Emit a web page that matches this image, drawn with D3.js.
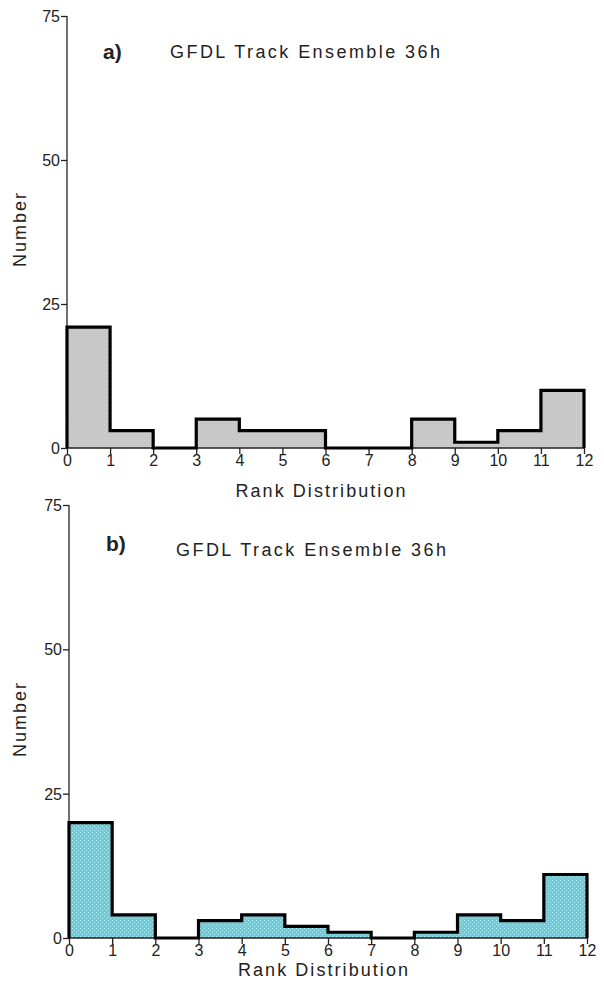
<!DOCTYPE html>
<html><head><meta charset="utf-8">
<script src="https://cdn.jsdelivr.net/npm/d3@7"></script>
<style>body{margin:0;background:#fff}svg{display:block}text{font-family:"Liberation Sans",Arial,sans-serif;fill:#222}</style>
</head><body><svg id="c" width="604" height="993"></svg>
<script>
const ranks = [0,1,2,3,4,5,6,7,8,9,10,11,12];
const yTicks = [0,25,50,75];
const countsA = [21,3,0,5,3,3,0,0,5,1,3,10];
const countsB = [20,4,0,3,4,2,1,0,1,4,3,11];
const panelLabels = ["a)","b)"];
const titles = ["GFDL Track Ensemble 36h","GFDL Track Ensemble 36h"];
const xLabel = "Rank Distribution", yLabel = "Number";

const svg = d3.select("#c");
const defs = svg.append("defs");
function pat(id, base, dot){
  const p = defs.append("pattern").attr("id",id).attr("width",4).attr("height",4).attr("patternUnits","userSpaceOnUse");
  p.append("rect").attr("width",4).attr("height",4).attr("fill",base);
  p.append("rect").attr("x",0).attr("y",0).attr("width",1).attr("height",1).attr("fill",dot);
  p.append("rect").attr("x",2).attr("y",2).attr("width",1).attr("height",1).attr("fill",dot);
}
pat("pg","#c6c6c6","#d8d8d8");
pat("pc","#72c9dc","#a8ecef");

const panels = [
  {counts:countsA, fill:"url(#pg)", x0:67, x1:584, yb:448, yt:16, lab:[103,59], title:[170,58], tW:270, nY:230, rY:497},
  {counts:countsB, fill:"url(#pc)", x0:69, x1:587, yb:938, yt:505, lab:[106,551], title:[176,556], tW:270, nY:720, rY:976}
];

panels.forEach((P,i)=>{
  const g = svg.append("g");
  const x = d3.scaleLinear().domain([0,12]).range([P.x0,P.x1]);
  const y = d3.scaleLinear().domain([0,75]).range([P.yb,P.yt]);
  const pts = [[0,0]];
  P.counts.forEach((v,k)=>{ pts.push([k,v]); pts.push([k+1,v]); });
  pts.push([12,0]);
  const line = d3.line().x(d=>x(d[0])).y(d=>y(d[1]));
  const area = d3.area().x(d=>x(d[0])).y0(y(0)).y1(d=>y(d[1]));
  g.append("path").attr("d",area(pts)).attr("fill",P.fill);

  const ya = g.append("g").attr("transform",`translate(${P.x0},0)`)
    .call(d3.axisLeft(y).tickValues(yTicks).tickSize(6).tickPadding(1));
  const xa = g.append("g").attr("transform",`translate(0,${P.yb})`)
    .call(d3.axisBottom(x).tickValues(ranks).tickSize(6).tickPadding(1));
  [ya,xa].forEach(a=>{
    a.select(".domain").attr("stroke","#222").attr("stroke-width",1.3);
    a.selectAll(".tick line").attr("stroke","#222").attr("stroke-width",1.3);
    a.selectAll(".tick text").style("font-size","16px").attr("fill","#222");
  });
  ya.select(".domain").attr("d",`M0,${P.yt}V${P.yb}`);
  ya.selectAll(".tick text").attr("dy","0.35em");
  xa.select(".domain").attr("d",`M${P.x0},0H${P.x1}`);

  g.append("path").attr("d",line(pts)).attr("fill","none").attr("stroke","#000")
    .attr("stroke-width",3.2).attr("stroke-linejoin","miter");

  g.append("text").attr("x",P.lab[0]).attr("y",P.lab[1]).text(panelLabels[i])
    .style("font-size","21px").style("font-weight","bold").attr("fill","#111");
  g.append("text").attr("x",P.title[0]).attr("y",P.title[1]).text(titles[i])
    .style("font-size","18px").attr("textLength",P.tW).attr("lengthAdjust","spacing");
  g.append("text").attr("transform",`translate(26,${P.nY}) rotate(-90)`).attr("text-anchor","middle")
    .text(yLabel).style("font-size","18px").attr("textLength",74).attr("lengthAdjust","spacing");
  g.append("text").attr("x",(P.x0+P.x1)/2-5).attr("y",P.rY).attr("text-anchor","middle")
    .text(xLabel).style("font-size","18px").attr("textLength",170).attr("lengthAdjust","spacing");
});
</script></body></html>
